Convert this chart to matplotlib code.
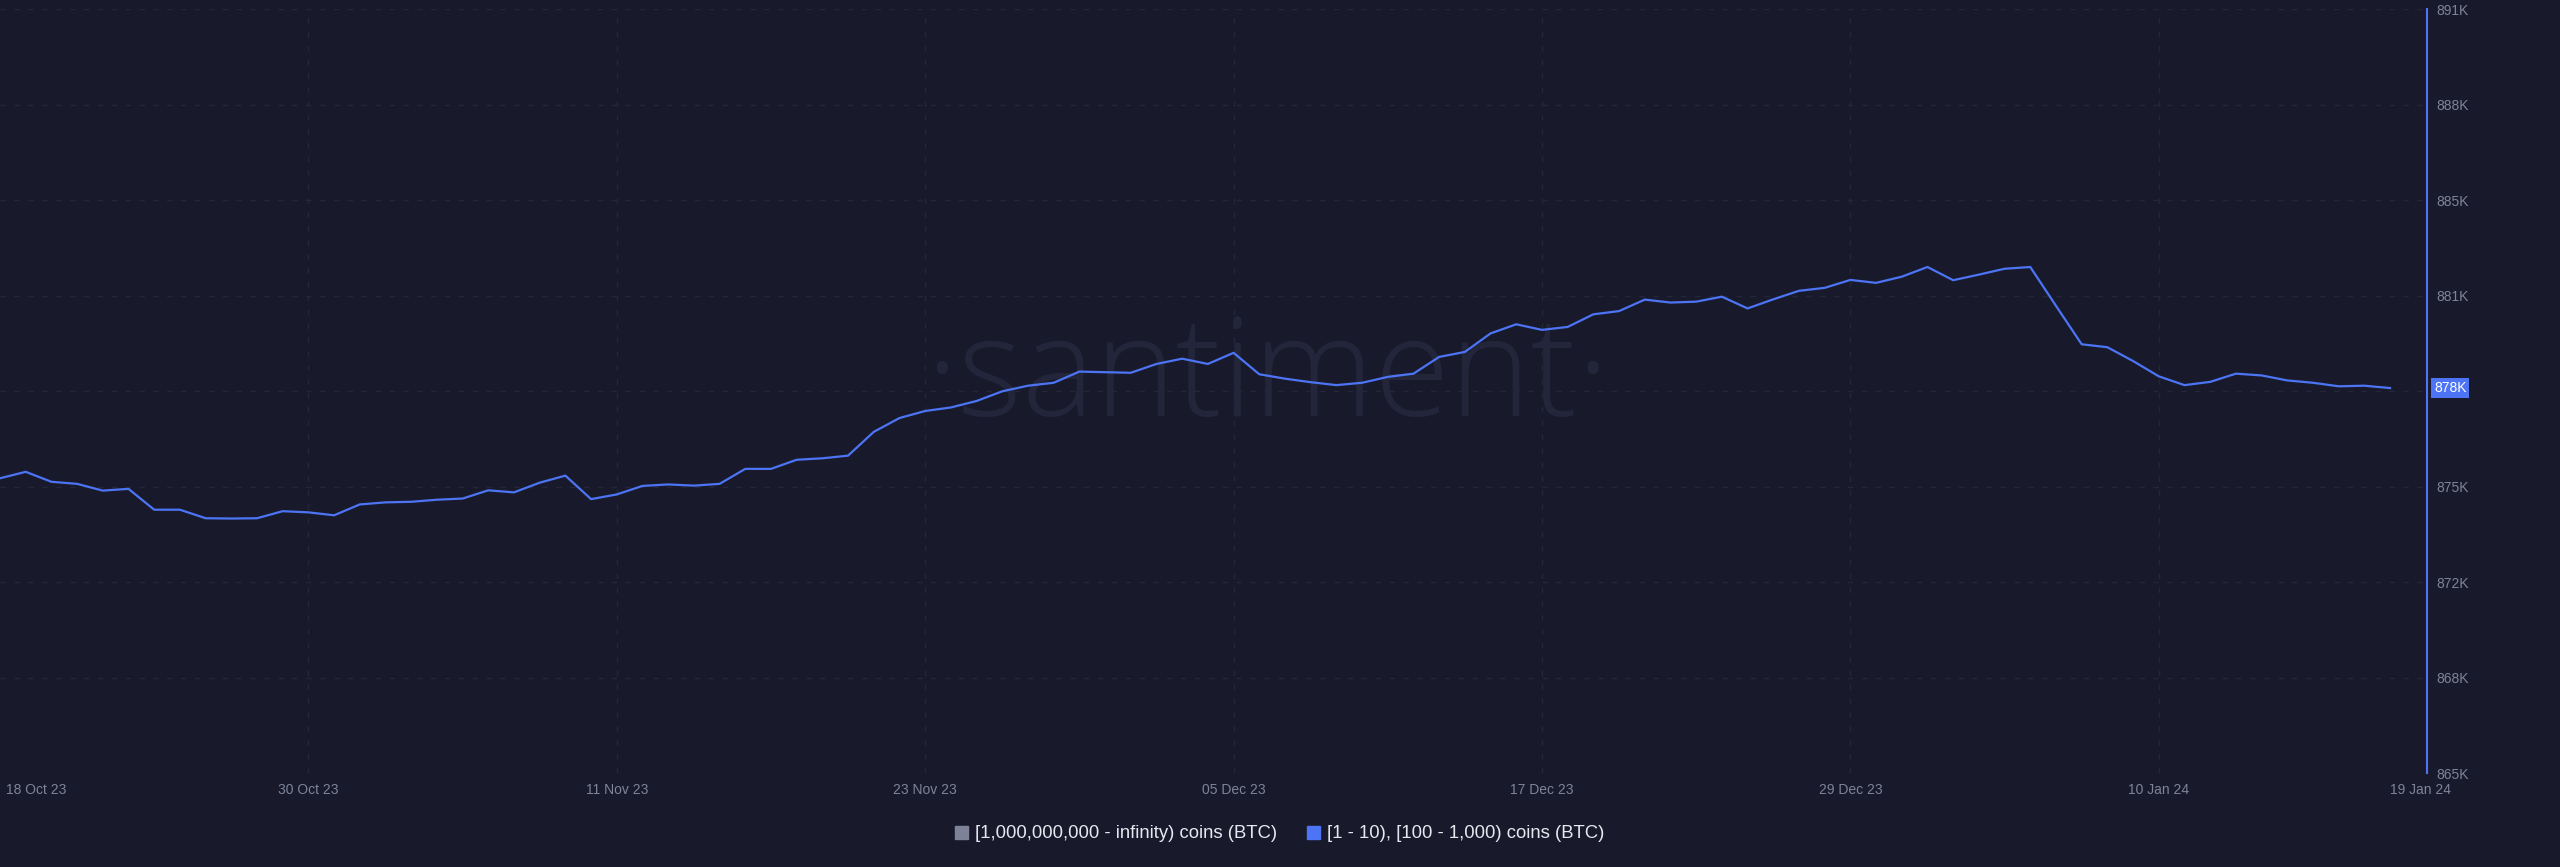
import numpy as np
import pandas as pd
import matplotlib
matplotlib.use("Agg")
import matplotlib.pyplot as plt
from matplotlib.patches import Patch
from matplotlib.transforms import ScaledTranslation

# Data (values in thousands of coins, daily)
start_date = "2023-10-18"
holdings_k = [
    875.03, 875.25, 874.91, 874.84, 874.61, 874.67, 873.96, 873.96, 873.67, 873.66,
    873.67, 873.91, 873.87, 873.77, 874.14, 874.21, 874.23, 874.30, 874.34, 874.62,
    874.55, 874.88, 875.12, 874.32, 874.48, 874.77, 874.82, 874.78, 874.84, 875.35,
    875.35, 875.66, 875.71, 875.80, 876.61, 877.08, 877.32, 877.44, 877.66, 877.99,
    878.18, 878.28, 878.66, 878.64, 878.62, 878.92, 879.10, 878.92, 879.30, 878.57,
    878.42, 878.30, 878.20, 878.28, 878.48, 878.59, 879.16, 879.33, 879.96, 880.27,
    880.08, 880.18, 880.61, 880.72, 881.11, 881.01, 881.04, 881.21, 880.81, 881.12,
    881.41, 881.51, 881.78, 881.68, 881.89, 882.22, 881.77, 881.96, 882.16, 882.22,
    880.90, 879.59, 879.49, 879.02, 878.50, 878.20, 878.31, 878.59, 878.53, 878.36,
    878.28, 878.16, 878.18, 878.10,
]
tick_dates = ["2023-10-18", "2023-10-30", "2023-11-11", "2023-11-23", "2023-12-05",
              "2023-12-17", "2023-12-29", "2024-01-10", "2024-01-19"]
legend_labels = ["[1,000,000,000 - infinity) coins (BTC)", "[1 - 10), [100 - 1,000) coins (BTC)"]
y_min, y_max = 865000, 891000

BG = "#181a2b"
GRID = "#24273a"
BLUE = "#4c74f4"
GREY_TXT = "#7e8399"


def k_fmt(v, pos=None):
    return f"{int(v / 1000 + 0.5)}K"


def main():
    plt.rcParams['font.family'] = ['Liberation Sans', 'DejaVu Sans']
    dates = pd.date_range(start_date, periods=len(holdings_k), freq="D")
    values = np.array(holdings_k) * 1000

    fig = plt.figure(figsize=(25.6, 8.67), dpi=100, facecolor=BG)
    ax = fig.add_axes([0.0, 94 / 867, 2427 / 2560, 1 - 94 / 867 - 9 / 867])
    ax.set_facecolor(BG)

    # watermark
    ax.text(0.522, 0.515, "\u00b7santiment\u00b7", transform=ax.transAxes,
            ha="center", va="center", fontsize=99, color="#23263a",
            family="Open Sans", fontweight="light", zorder=0)

    ax.plot(dates, values, color=BLUE, lw=1.6, zorder=3)

    # axes ranges
    ax.set_xlim(dates[0], dates[-1] + pd.Timedelta(hours=34.5))
    ax.set_ylim(y_min, y_max)

    # y axis on the right
    yt = np.linspace(y_min, y_max, 9)
    ax.set_yticks(yt)
    ax.yaxis.set_major_formatter(plt.FuncFormatter(k_fmt))
    ax.yaxis.tick_right()
    ax.tick_params(axis="y", length=0, pad=7, labelsize=10, labelcolor=GREY_TXT)
    for y in yt:
        ax.axhline(y, color=GRID, lw=1, ls=(0, (4, 6)), zorder=1)

    # x axis
    td = pd.to_datetime(tick_dates)
    ax.set_xticks(td)
    ax.set_xticklabels([d.strftime("%d %b %y") for d in td])
    ax.tick_params(axis="x", length=0, pad=7, labelsize=10, labelcolor=GREY_TXT)
    labels = ax.get_xticklabels()
    labels[0].set_ha("left")
    labels[0].set_transform(labels[0].get_transform() + ScaledTranslation(0.06, 0, fig.dpi_scale_trans))
    labels[-1].set_ha("left")
    for d in td[1:-1]:
        ax.axvline(d, color=GRID, lw=1, ls=(0, (4, 6)), zorder=1)

    for s in ["top", "left", "bottom"]:
        ax.spines[s].set_visible(False)
    ax.spines["right"].set_color(BLUE)
    ax.spines["right"].set_linewidth(1.5)

    # last value tag
    ax.text(1.0029, values[-1], k_fmt(values[-1]), transform=ax.get_yaxis_transform(),
            ha="left", va="center", fontsize=10, color="white",
            bbox=dict(boxstyle="square,pad=0.2", fc=BLUE, ec="none"), zorder=5)

    # legend
    handles = [Patch(color="#7d8298"), Patch(color=BLUE)]
    fig.legend(handles, legend_labels, loc="center", bbox_to_anchor=(0.5, 1 - 834 / 867),
               ncol=2, frameon=False, fontsize=13.3, labelcolor="#e6e8f0",
               handlelength=0.7, handleheight=0.7, handletextpad=0.4, columnspacing=1.6)

    fig.savefig("out.png", dpi=100, facecolor=BG)


if __name__ == "__main__":
    main()
